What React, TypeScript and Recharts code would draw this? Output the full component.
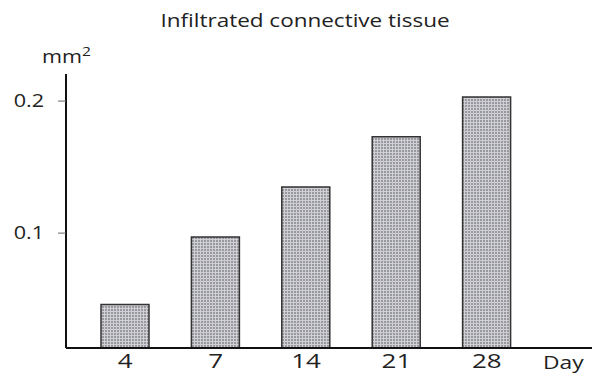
import { BarChart, Bar, XAxis, YAxis } from 'recharts'

// Infiltrated connective tissue area by day
const days = ['4', '7', '14', '21', '28']
const areas = [0.046, 0.097, 0.135, 0.173, 0.203]
const yTicks = [0.1, 0.2]

const data = days.map((day, i) => ({ day, area: areas[i] }))

const font = '"Open Sans", sans-serif'
const ink = '#222'

// the typeface in this figure is set a bit wide, so text gets stretched horizontally
function WideText({ x, y, anchor, size, stretch, children }: any) {
  return (
    <g transform={`translate(${x},${y}) scale(${stretch},1)`}>
      <text x={0} y={0} textAnchor={anchor} fill={ink} fontSize={size} fontFamily={font}>
        {children}
      </text>
    </g>
  )
}

function DayTick({ x, y, payload }: any) {
  return <WideText x={x} y={y + 12} anchor="middle" size={20} stretch={1.3}>{payload.value}</WideText>
}

function AreaTick({ x, y, payload }: any) {
  return <WideText x={x} y={y + 6} anchor="end" size={18} stretch={1.2}>{Number(payload.value).toFixed(1)}</WideText>
}

export default function App() {
  return (
    <div style={{ position: 'absolute', left: 0, top: 0, width: 599, height: 378, background: '#fff' }}>
      <svg width={599} height={40} style={{ position: 'absolute', left: 0, top: 0 }}>
        <WideText x={305} y={27} anchor="middle" size={18} stretch={1.25}>Infiltrated connective tissue</WideText>
      </svg>
      <BarChart width={599} height={378} data={data} margin={{ top: 74, right: 7, bottom: 0, left: 6 }}>
        <defs>
          <pattern id="stipple" width="3" height="3" patternUnits="userSpaceOnUse">
            <rect width="3" height="3" fill="#cfcfd5" />
            <rect width="2" height="2" fill="#98989f" />
          </pattern>
        </defs>
        <XAxis
          dataKey="day"
          height={30}
          padding={{ left: 14, right: 60 }}
          stroke="#111"
          strokeWidth={2}
          tickLine={false}
          tick={<DayTick />}
          label={{
            content: () => <WideText x={543} y={369} anchor="start" size={19} stretch={1.2}>Day</WideText>,
          }}
        />
        <YAxis
          type="number"
          width={60}
          domain={[0.013, 0.2205]}
          ticks={yTicks}
          allowDataOverflow
          stroke="#111"
          strokeWidth={2}
          tickSize={8}
          tickLine={{ stroke: '#666', strokeWidth: 1 }}
          tick={<AreaTick />}
          tickMargin={14}
          label={{
            content: () => (
              <WideText x={42} y={63} anchor="start" size={18} stretch={1.2}>
                mm<tspan fontSize={13} dy={-7}>2</tspan>
              </WideText>
            ),
          }}
        />
        <Bar dataKey="area" barSize={48} fill="url(#stipple)" stroke="#333" strokeWidth={1.5} isAnimationActive={false} />
      </BarChart>
    </div>
  )
}
